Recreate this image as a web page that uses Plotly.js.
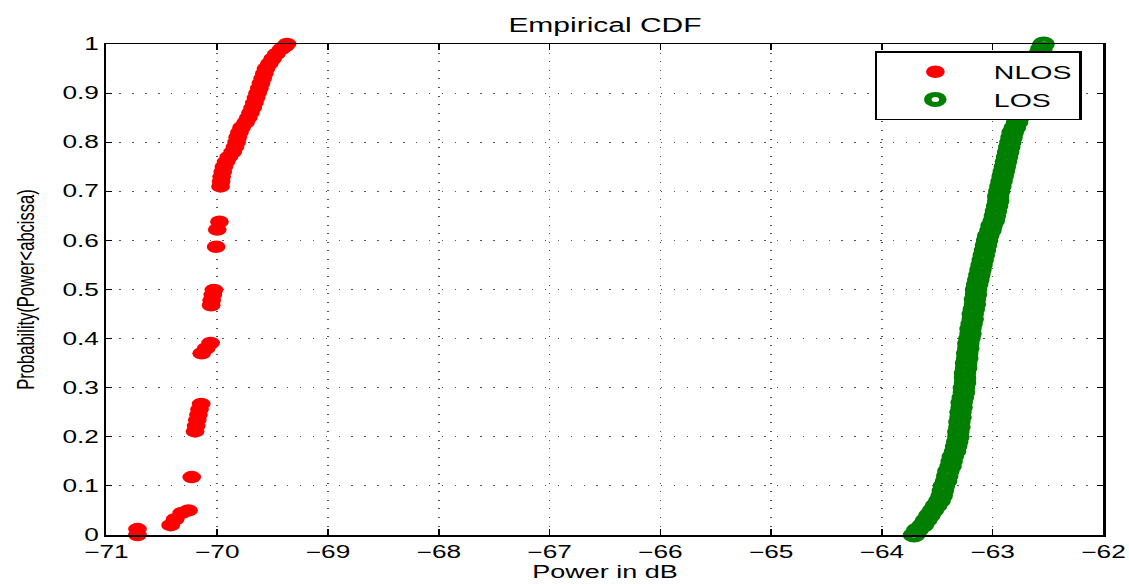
<!DOCTYPE html>
<html>
<head>
<meta charset="utf-8">
<script src="https://cdn.plot.ly/plotly-3.0.1.min.js"></script>
<style>
  html, body { margin: 0; padding: 0; background: #fff; overflow: hidden; }
  #frame { width: 1129px; height: 584px; overflow: hidden; }
  /* the figure is laid out on a narrower canvas and widened horizontally */
  #chart { width: 753px; height: 584px; transform: scaleX(1.4993); transform-origin: 0 0; }
</style>
</head>
<body>
<div id="frame"><div id="chart"></div></div>
<script>
// Empirical CDF of received power, NLOS and LOS measurement sets
const nlosPower = [
  -70.72, -70.72,
  -70.42, -70.38, -70.32, -70.26,
  -70.23,
  -70.20, -70.19, -70.18, -70.17, -70.16, -70.145,
  -70.14, -70.10, -70.06,
  -70.055, -70.05, -70.04, -70.03,
  -70.01,
  -70.00, -69.98,
  -69.97, -69.965, -69.96, -69.95, -69.94, -69.92, -69.895, -69.86, -69.84, -69.825,
  -69.815, -69.80, -69.78, -69.745, -69.72, -69.70, -69.68, -69.665, -69.65, -69.635,
  -69.62, -69.605, -69.59, -69.575, -69.56, -69.53, -69.50, -69.465, -69.42, -69.39, -69.37
];
const nlosProb = [
  0.000, 0.012,
  0.020, 0.032, 0.045, 0.050,
  0.118,
  0.211, 0.222, 0.234, 0.245, 0.256, 0.267,
  0.370, 0.380, 0.391,
  0.468, 0.478, 0.489, 0.499,
  0.587,
  0.622, 0.638,
  0.710, 0.720, 0.730, 0.740, 0.750, 0.760, 0.770, 0.780, 0.790, 0.800,
  0.810, 0.820, 0.830, 0.840, 0.850, 0.860, 0.870, 0.880, 0.890, 0.900,
  0.910, 0.920, 0.930, 0.940, 0.950, 0.960, 0.970, 0.980, 0.990, 0.995, 1.000
];

const losPower = [
  -63.71, -63.68, -63.63, -63.60, -63.57, -63.54, -63.51, -63.48, -63.46, -63.45,
  -63.44, -63.42, -63.41, -63.40, -63.38, -63.37, -63.36, -63.34, -63.33, -63.32,
  -63.31, -63.31, -63.30, -63.30, -63.29, -63.29, -63.28, -63.28, -63.27, -63.26,
  -63.26, -63.25, -63.25, -63.25, -63.24, -63.24, -63.23, -63.23, -63.22, -63.22,
  -63.21, -63.20, -63.20, -63.19, -63.18, -63.18, -63.17, -63.16, -63.16, -63.15,
  -63.15, -63.14, -63.13, -63.12, -63.11, -63.10, -63.09, -63.08, -63.07, -63.06,
  -63.05, -63.04, -63.02, -63.01, -62.99, -62.98, -62.97, -62.96, -62.95, -62.95,
  -62.94, -62.93, -62.92, -62.91, -62.90, -62.89, -62.88, -62.87, -62.86, -62.85,
  -62.84, -62.83, -62.82, -62.80, -62.78, -62.77, -62.75, -62.73, -62.71, -62.70,
  -62.68, -62.67, -62.66, -62.64, -62.63, -62.62, -62.61, -62.60, -62.58, -62.56,
  -62.54
];
const losProb = [
  0.00, 0.01, 0.02, 0.03, 0.04, 0.05, 0.06, 0.07, 0.08, 0.09,
  0.10, 0.11, 0.12, 0.13, 0.14, 0.15, 0.16, 0.17, 0.18, 0.19,
  0.20, 0.21, 0.22, 0.23, 0.24, 0.25, 0.26, 0.27, 0.28, 0.29,
  0.30, 0.31, 0.32, 0.33, 0.34, 0.35, 0.36, 0.37, 0.38, 0.39,
  0.40, 0.41, 0.42, 0.43, 0.44, 0.45, 0.46, 0.47, 0.48, 0.49,
  0.50, 0.51, 0.52, 0.53, 0.54, 0.55, 0.56, 0.57, 0.58, 0.59,
  0.60, 0.61, 0.62, 0.63, 0.64, 0.65, 0.66, 0.67, 0.68, 0.69,
  0.70, 0.71, 0.72, 0.73, 0.74, 0.75, 0.76, 0.77, 0.78, 0.79,
  0.80, 0.81, 0.82, 0.83, 0.84, 0.85, 0.86, 0.87, 0.88, 0.89,
  0.90, 0.91, 0.92, 0.93, 0.94, 0.95, 0.96, 0.97, 0.98, 0.99,
  1.00
];

const xTicks = [-71, -70, -69, -68, -67, -66, -65, -64, -63, -62];
const yTicks = [0, 0.1, 0.2, 0.3, 0.4, 0.5, 0.6, 0.7, 0.8, 0.9, 1];
const yTickText = ['0', '0.1', '0.2', '0.3', '0.4', '0.5', '0.6', '0.7', '0.8', '0.9', '1'];

const FONT = '"Liberation Sans", Arial, Helvetica, sans-serif';

const traces = [
  {
    name: 'NLOS', x: nlosPower, y: nlosProb,
    type: 'scatter', mode: 'markers', cliponaxis: false,
    marker: { symbol: 'circle', size: 12.5, color: '#ff0000', line: { width: 0 } }
  },
  {
    name: 'LOS', x: losPower, y: losProb,
    type: 'scatter', mode: 'markers', cliponaxis: false,
    marker: { symbol: 'circle-open', size: 10, color: '#007f00', line: { width: 5, color: '#007f00' } }
  }
];

const axisCommon = {
  showline: true, linecolor: '#000', linewidth: 1.5, mirror: 'ticks',
  ticks: 'inside', tickcolor: '#000', tickwidth: 1,
  showgrid: true, gridcolor: '#555', gridwidth: 1,
  zeroline: false, fixedrange: true,
  tickfont: { family: FONT, size: 17.5, color: '#000' }
};

const layout = {
  width: 753, height: 584,
  margin: { l: 70.7, r: 17, t: 44, b: 49, pad: 0 },
  paper_bgcolor: '#fff', plot_bgcolor: '#fff',
  font: { family: FONT, color: '#000' },
  title: {
    text: 'Empirical CDF', font: { family: FONT, size: 20, color: '#000' },
    x: 0.5, xref: 'paper', xanchor: 'center', y: 0.958, yref: 'container', yanchor: 'middle'
  },
  xaxis: Object.assign({}, axisCommon, {
    range: [-71, -62], tickvals: xTicks, ticklen: 6, griddash: '1px,7.6px',
    ticklabelstandoff: 1,
    title: { text: 'Power in dB', font: { family: FONT, size: 18, color: '#000' }, standoff: 4 }
  }),
  yaxis: Object.assign({}, axisCommon, {
    range: [0, 1], tickvals: yTicks, ticktext: yTickText, ticklen: 4, griddash: '1px,7.6px',
    title: { text: 'Probability(Power<abcissa)', font: { family: FONT, size: 16.5, color: '#000' }, standoff: 14 }
  }),
  showlegend: true,
  legend: {
    x: 0.978, xanchor: 'right', y: 0.985, yanchor: 'top',
    bgcolor: '#fff', bordercolor: '#000', borderwidth: 1.5,
    font: { family: FONT, size: 19, color: '#000' },
    itemwidth: 68, itemsizing: 'trace'
  }
};

Plotly.newPlot('chart', traces, layout, { staticPlot: true, displayModeBar: false });
</script>
</body>
</html>
